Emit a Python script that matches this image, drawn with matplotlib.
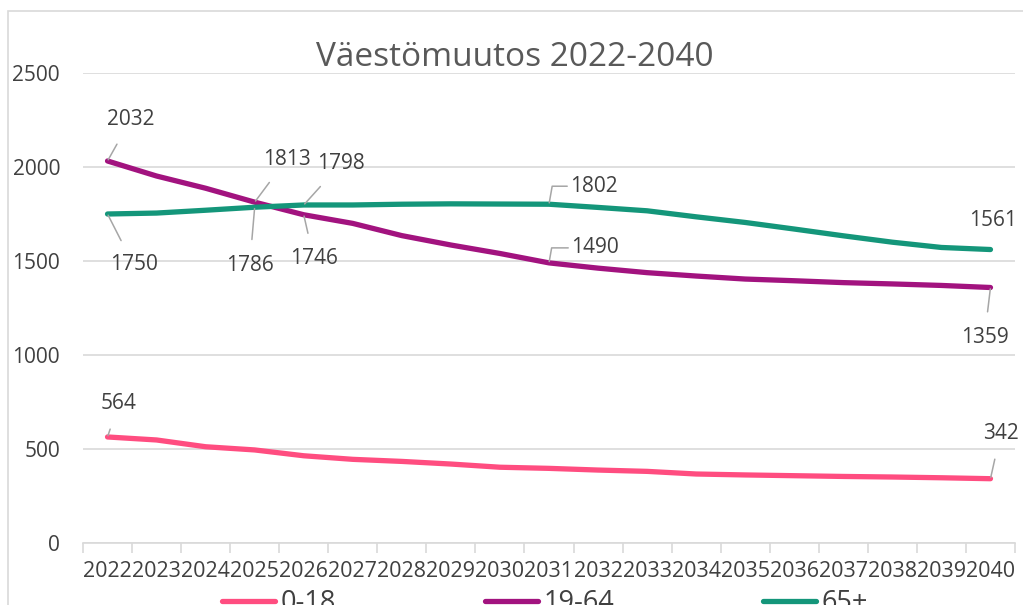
import matplotlib
matplotlib.use("Agg")
import matplotlib.pyplot as plt
import matplotlib.patches as patches
import numpy as np

plt.rcParams['font.family'] = ['Open Sans', 'DejaVu Sans']

years = list(range(2022, 2041))
age_0_18 = [564, 548, 512, 495, 464, 445, 434, 420, 403, 397, 388, 381, 367, 362, 358, 354, 351, 347, 342]
age_19_64 = [2032, 1952, 1887, 1813, 1746, 1700, 1635, 1585, 1540, 1490, 1462, 1438, 1420, 1404, 1395, 1385, 1378, 1370, 1359]
age_65 = [1750, 1755, 1770, 1786, 1798, 1798, 1802, 1804, 1803, 1802, 1785, 1767, 1735, 1705, 1670, 1634, 1600, 1572, 1561]

series_names = ['0-18', '19-64', '65+']
colors = ['#FF4D80', '#A2137F', '#14967A']
text_col = '#404040'
grid_col = '#D9D9D9'
leader_col = '#A6A6A6'

W, H = 1023, 605
fig = plt.figure(figsize=(W / 100, H / 100), dpi=100)
ax = fig.add_axes([83 / W, 1 - 543 / H, (1015 - 83) / W, (543 - 73) / H])

# outer chart frame (only left and top edges are inside the crop)
fig.add_artist(patches.Rectangle((8 / W, -0.1), 1.2, 1 - 11 / H + 0.1,
                                 transform=fig.transFigure, fill=False,
                                 edgecolor=grid_col, linewidth=1.2))

x = np.arange(len(years))
for vals, c, name in zip([age_0_18, age_19_64, age_65], colors, series_names):
    ax.plot(x, vals, color=c, linewidth=3.8, solid_capstyle='round',
            solid_joinstyle='round', label=name)

ax.set_xlim(-0.5, len(years) - 0.5)
ax.set_ylim(0, 2500)
ax.set_yticks(np.arange(0, 2501, 500))
ax.yaxis.grid(True, color=grid_col, linewidth=1.2)
ax.set_axisbelow(True)
for s in ['left', 'right', 'top']:
    ax.spines[s].set_visible(False)
ax.spines['bottom'].set_color(grid_col)
ax.spines['bottom'].set_linewidth(1.2)

ax.set_xticks(x)
ax.set_xticklabels([str(y) for y in years])
ax.set_xticks(np.arange(-0.5, len(years)), minor=True)
ax.tick_params(axis='x', which='major', length=0, pad=13, labelsize=15.5, labelcolor=text_col)
ax.tick_params(axis='x', which='minor', length=7, width=1.2, color=grid_col)
ax.tick_params(axis='y', length=0, pad=16.5, labelsize=15, labelcolor=text_col)

fig.text(515 / W, 1 - 57 / H, 'Väestömuutos 2022-2040', ha='center', va='center',
         fontsize=24, color='#595959')

# data labels: (series, index, dx, dy in pixels for text centre, leader style)
labels = [
    (age_19_64, 0, 23, 41, 'line'),
    (age_65, 0, 26, -51, 'line'),
    (age_19_64, 3, 32, 43, 'line'),
    (age_65, 3, -5, -58, 'line'),
    (age_65, 4, 37, 41, 'line'),
    (age_19_64, 4, 10, -44, 'line'),
    (age_65, 9, 51, 18, 'elbow'),
    (age_19_64, 9, 52, 15, 'elbow'),
    (age_65, 18, 3, 29, None),
    (age_19_64, 18, -6, -50, 'line'),
    (age_0_18, 0, 11, 33, 'line'),
    (age_0_18, 18, 10, 45, 'line'),
]

for vals, i, dx, dy, style in labels:
    v = vals[i]
    if style == 'line':
        ap = dict(arrowstyle='-', color=leader_col, lw=1.1, shrinkA=9, shrinkB=1)
    elif style == 'elbow':
        ap = dict(arrowstyle='-', color=leader_col, lw=1.1, shrinkA=0, shrinkB=1,
                  connectionstyle='angle,angleA=0,angleB=80,rad=0', relpos=(0, 0.5))
    else:
        ap = None
    if style == 'elbow':
        ax.annotate(str(v), xy=(i, v), xytext=(dx - 30, dy), textcoords='offset pixels',
                    ha='left', va='center', fontsize=15, color=text_col, arrowprops=ap)
    else:
        ax.annotate(str(v), xy=(i, v), xytext=(dx, dy), textcoords='offset pixels',
                    ha='center', va='center', fontsize=15, color=text_col, arrowprops=ap)

fig.legend(loc='center', bbox_to_anchor=(545 / W, 2 / H), ncol=3, frameon=False,
           fontsize=19.5, handlelength=1.96, columnspacing=5.5, handletextpad=0.2,
           labelcolor=text_col)

fig.savefig('out.png', dpi=100)
